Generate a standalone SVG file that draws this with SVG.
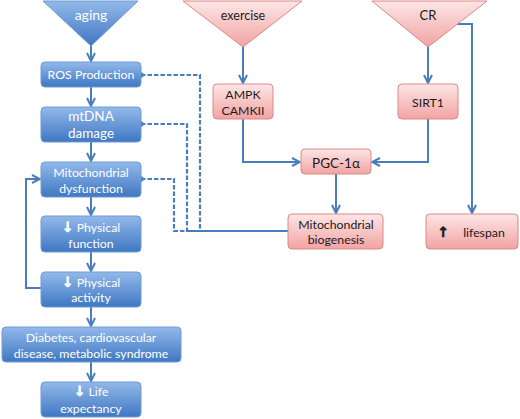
<svg xmlns="http://www.w3.org/2000/svg" width="520" height="419" viewBox="0 0 520 419">
<defs>
<linearGradient id="gb" x1="0" y1="0" x2="0" y2="1">
<stop offset="0" stop-color="#93b9ea"/><stop offset="1" stop-color="#3f77c2"/>
</linearGradient>
<linearGradient id="gp" x1="0" y1="0" x2="0" y2="1">
<stop offset="0" stop-color="#fde6e6"/><stop offset="1" stop-color="#f2a3a3"/>
</linearGradient>
<marker id="ah" viewBox="0 0 10 10" refX="9" refY="5" markerWidth="5" markerHeight="5" orient="auto" markerUnits="strokeWidth">
<path d="M1,1 L9,5 L1,9" fill="none" stroke="#4a7ebb" stroke-width="2"/>
</marker>
<marker id="dot" viewBox="0 0 10 10" refX="5" refY="5" markerWidth="3" markerHeight="3" markerUnits="strokeWidth">
<circle cx="5" cy="5" r="4" fill="#4a7ebb"/>
</marker>
</defs>
<style>
.bb{fill:url(#gb);stroke:#6f9bd3;stroke-width:1}
.pb{fill:url(#gp);stroke:#d98a88;stroke-width:1}
.bt{fill:#ffffff;font-family:Lato,"Open Sans",sans-serif;font-size:12.3px;text-anchor:middle}
.pt{fill:#1a1a1a;font-family:Lato,"Open Sans",sans-serif;font-size:12.3px;text-anchor:middle}
.ar{font-family:"DejaVu Sans",sans-serif;font-weight:bold;font-size:14px;stroke:#ffffff;stroke-width:0.6}
.ak{stroke:#1a1a1a}
.c{fill:none;stroke:#4a7ebb;stroke-width:2}
.a{marker-end:url(#ah)}
.d{fill:none;stroke:#4a7ebb;stroke-width:2.2;stroke-dasharray:4.5 2;marker-start:url(#dot)}
</style>
<g id="connectors">
<path class="c a" d="M91,45 V61"/>
<path class="c a" d="M91,87 V106"/>
<path class="c a" d="M91,142 V161"/>
<path class="c a" d="M91,197 V215"/>
<path class="c a" d="M91,252 V271"/>
<path class="c a" d="M91,307 V326"/>
<path class="c a" d="M91,362 V381"/>
<path class="c a" d="M41,288 H26 V179 H40"/>
<path class="d" d="M141,75 H200 V231 H288"/>
<path class="d" d="M141,124 H187 V231 H288"/>
<path class="d" d="M141,179 H174 V231 H288"/>
<path class="c a" d="M243,47 V83"/>
<path class="c a" d="M428,47 V83"/>
<path class="c a" d="M243,119 V162 H300"/>
<path class="c a" d="M428,119 V162 H372"/>
<path class="c a" d="M336,174 V213"/>
<path class="c a" d="M457,24 H472 V213"/>
</g>
<g id="aging"><path class="bb" d="M43,1 H138 L91,46 Z"/><text class="bt" x="91" y="20" style="font-size:14px">aging</text></g>
<g id="exercise"><path class="pb" d="M183,1 H302 L243,47 Z"/><text class="pt" x="243" y="20" style="font-size:12.5px">exercise</text></g>
<g id="cr"><path class="pb" d="M372,1 H487 L428,47 Z"/><text class="pt" x="428" y="20" style="font-size:13px">CR</text></g>
<g id="ros"><rect class="bb" x="41" y="62" width="100" height="25" rx="4"/><text class="bt" x="91" y="79">ROS Production</text></g>
<g id="mtdna"><rect class="bb" x="41" y="107" width="100" height="35" rx="4"/><text class="bt" x="91" y="121" style="font-size:13.5px">mtDNA</text><text class="bt" x="91" y="138" style="font-size:13.5px">damage</text></g>
<g id="dysfunction"><rect class="bb" x="41" y="162" width="100" height="35" rx="4"/><text class="bt" x="91" y="176.5">Mitochondrial</text><text class="bt" x="91" y="192.5">dysfunction</text></g>
<g id="physfunction"><rect class="bb" x="41" y="216" width="100" height="36" rx="4"/><text class="bt" x="91" y="231.5"><tspan class="ar">↓</tspan> Physical</text><text class="bt" x="91" y="247.5">function</text></g>
<g id="physactivity"><rect class="bb" x="41" y="272" width="100" height="35" rx="4"/><text class="bt" x="91" y="286.5"><tspan class="ar">↓</tspan> Physical</text><text class="bt" x="91" y="302">activity</text></g>
<g id="diabetes"><rect class="bb" x="2" y="327" width="179" height="35" rx="4"/><text class="bt" x="91" y="341.5">Diabetes, cardiovascular</text><text class="bt" x="91" y="357.5">disease, metabolic syndrome</text></g>
<g id="life"><rect class="bb" x="41" y="382" width="100" height="35" rx="4"/><text class="bt" x="91" y="396"><tspan class="ar">↓</tspan> Life</text><text class="bt" x="91" y="412.5">expectancy</text></g>
<g id="ampk"><rect class="pb" x="213" y="84" width="60" height="35" rx="4"/><text class="pt" x="243" y="98.5">AMPK</text><text class="pt" x="243" y="114.5">CAMKII</text></g>
<g id="sirt1"><rect class="pb" x="398" y="84" width="60" height="35" rx="4"/><text class="pt" x="428" y="106.5">SIRT1</text></g>
<g id="pgc"><rect class="pb" x="301" y="149" width="70" height="25" rx="4"/><text class="pt" x="336" y="167.5" style="font-size:13.5px">PGC-1α</text></g>
<g id="biogenesis"><rect class="pb" x="288" y="214" width="95" height="35" rx="4"/><text class="pt" x="336" y="228.5">Mitochondrial</text><text class="pt" x="336" y="244">biogenesis</text></g>
<g id="lifespan"><rect class="pb" x="426" y="214" width="92" height="35" rx="4"/><text class="pt" x="443" y="237"><tspan class="ar ak">↑</tspan></text><text class="pt" x="484" y="236.5">lifespan</text></g>
</svg>
